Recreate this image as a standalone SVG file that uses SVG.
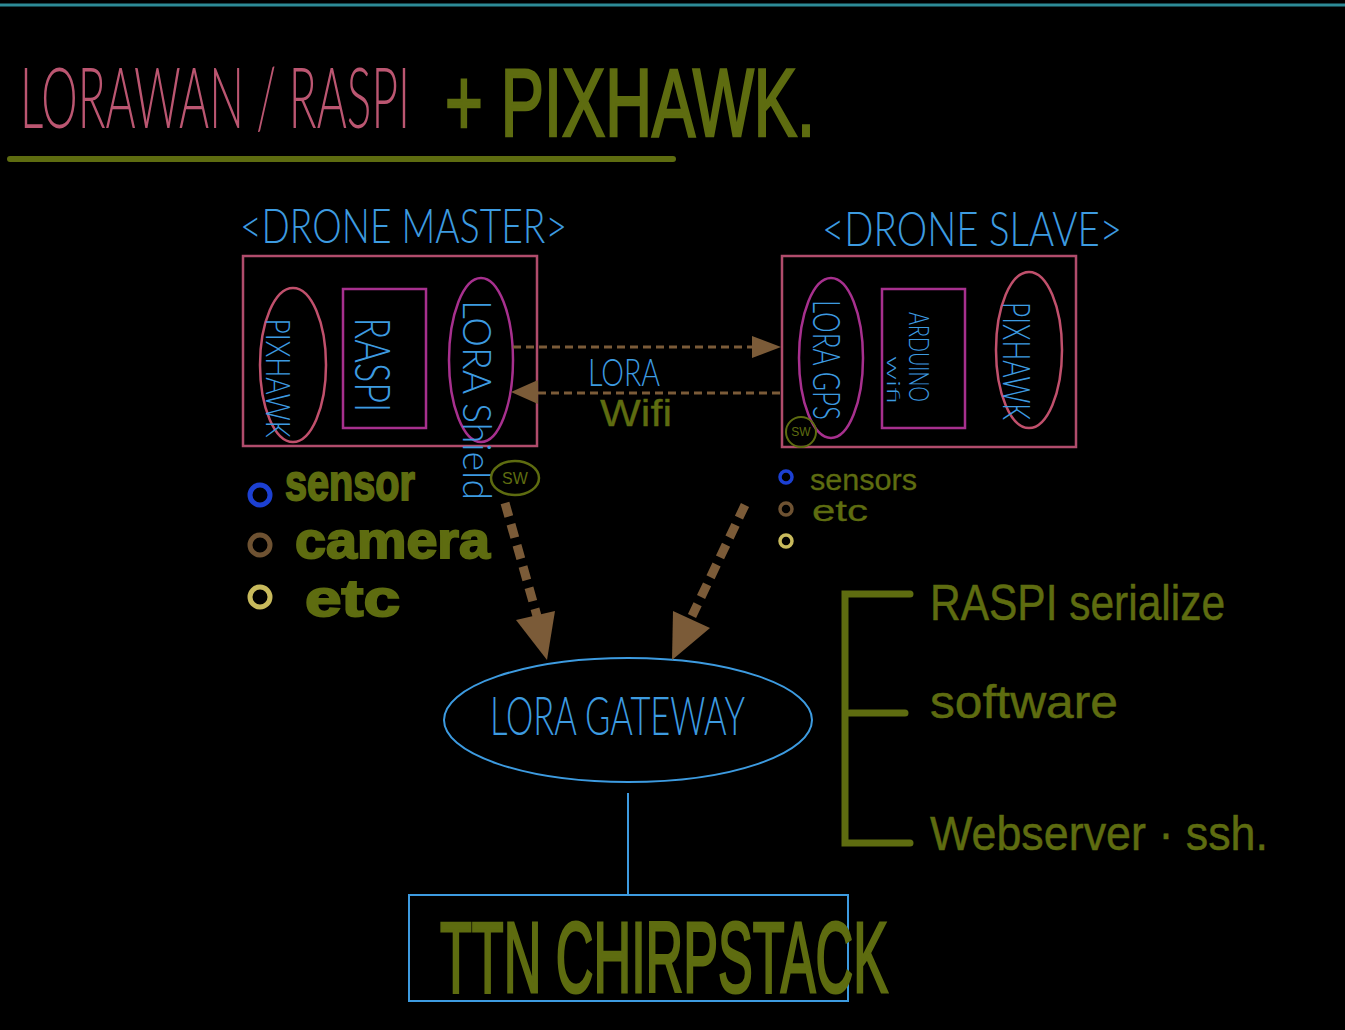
<svg xmlns="http://www.w3.org/2000/svg" width="1345" height="1030" viewBox="0 0 1345 1030">
<style>
.pink{fill:#bb5671;font-family:"Lato","Liberation Sans",sans-serif;font-weight:300}
.olive{fill:#5e6c10;stroke:#5e6c10;font-family:"Liberation Sans",sans-serif}
.blue{fill:#3d9be0;font-family:"Lato","Liberation Sans",sans-serif;font-weight:300}
.box{fill:none;stroke:#b04c6c;stroke-width:2.5}
.mag{fill:none;stroke:#a7308e;stroke-width:2.5}
.pk{fill:none;stroke:#c0506c;stroke-width:2.5}
.dash{stroke:#7b5b38;stroke-width:3;stroke-dasharray:8 5;fill:none}
.bigdash{stroke:#7b5b38;stroke-width:9;stroke-dasharray:14 8;fill:none}
.head{fill:#7b5b38}
.brk{stroke:#5e6c10;stroke-width:7;fill:none;stroke-linecap:round}
</style>
<rect width="1345" height="1030" fill="#000"/>
<line x1="0" y1="5" x2="1345" y2="5" stroke="#2d8b97" stroke-width="3"/>

<g id="title">
<text class="pink" font-size="46" transform="translate(20,128) scale(1,1.83)" textLength="390" lengthAdjust="spacingAndGlyphs">LORAWAN / RASPI</text>
<text class="olive" font-size="72" stroke-width="2" transform="translate(445,136) scale(1,1.33)" textLength="370" lengthAdjust="spacingAndGlyphs">+ PIXHAWK.</text>
<line x1="10" y1="159" x2="673" y2="159" stroke="#5e6c10" stroke-width="6" stroke-linecap="round"/>
</g>

<g id="drone-master">
<text class="blue" x="240" y="243" font-size="48" textLength="327" lengthAdjust="spacingAndGlyphs">&lt;DRONE MASTER&gt;</text>
<rect class="box" x="243" y="256" width="294" height="190"/>
<ellipse class="pk" cx="293" cy="365" rx="33" ry="77"/>
<text class="blue" font-size="34" text-anchor="middle" transform="translate(278,378) rotate(90)" dy="12" textLength="119" lengthAdjust="spacingAndGlyphs">PIXHAWK</text>
<rect class="mag" x="343" y="289" width="83" height="139"/>
<text class="blue" font-size="50" text-anchor="middle" transform="translate(373,365) rotate(90)" dy="18" textLength="95" lengthAdjust="spacingAndGlyphs">RASPI</text>
<ellipse class="mag" cx="481" cy="360" rx="32" ry="82"/>
<text class="blue" font-size="40" text-anchor="middle" transform="translate(477,400) rotate(90)" dy="14" textLength="200" lengthAdjust="spacingAndGlyphs">LORA Shield</text>
<ellipse cx="515" cy="478" rx="24" ry="17" fill="none" stroke="#5e6c10" stroke-width="2.5"/>
<text x="515" y="484" font-size="16" text-anchor="middle" fill="#5e6c10" font-family="Liberation Sans, sans-serif">SW</text>
</g>

<g id="master-legend">
<circle cx="260" cy="495" r="10" fill="none" stroke="#1c40d2" stroke-width="5"/>
<circle cx="260" cy="545" r="10" fill="none" stroke="#6e5232" stroke-width="5"/>
<circle cx="260" cy="597" r="10" fill="none" stroke="#c8ba5c" stroke-width="5"/>
<text class="olive" x="285" y="500" font-size="52" font-weight="bold" stroke-width="2" textLength="130" lengthAdjust="spacingAndGlyphs">sensor</text>
<text class="olive" x="295" y="558" font-size="52" font-weight="bold" stroke-width="2" textLength="195" lengthAdjust="spacingAndGlyphs">camera</text>
<text class="olive" x="305" y="616" font-size="52" font-weight="bold" stroke-width="2" textLength="95" lengthAdjust="spacingAndGlyphs">etc</text>
</g>

<g id="drone-slave">
<text class="blue" x="822" y="246" font-size="48" textLength="300" lengthAdjust="spacingAndGlyphs">&lt;DRONE SLAVE&gt;</text>
<rect class="box" x="782" y="256" width="294" height="191"/>
<ellipse class="mag" cx="831" cy="358" rx="32" ry="80"/>
<text class="blue" font-size="38" text-anchor="middle" transform="translate(826,360) rotate(90)" dy="13" textLength="120" lengthAdjust="spacingAndGlyphs">LORA GPS</text>
<rect class="mag" x="882" y="289" width="83" height="139"/>
<text class="blue" font-size="28" text-anchor="middle" transform="translate(919,357) rotate(90)" dy="10" textLength="90" lengthAdjust="spacingAndGlyphs">ARDUINO</text>
<text class="blue" font-size="18" text-anchor="middle" transform="translate(893,380) rotate(90)" dy="6" textLength="48" lengthAdjust="spacingAndGlyphs">wifi</text>
<ellipse class="pk" cx="1029" cy="350" rx="33" ry="78"/>
<text class="blue" font-size="38" text-anchor="middle" transform="translate(1016,361) rotate(90)" dy="13" textLength="118" lengthAdjust="spacingAndGlyphs">PIXHAWK</text>
<circle cx="801" cy="432" r="15" fill="none" stroke="#5e6c10" stroke-width="2"/>
<text x="801" y="436" font-size="12" text-anchor="middle" fill="#5e6c10" font-family="Liberation Sans, sans-serif">SW</text>
</g>

<g id="slave-legend">
<circle cx="786" cy="477" r="6" fill="none" stroke="#1c40d2" stroke-width="3.5"/>
<circle cx="786" cy="509" r="6" fill="none" stroke="#6e5232" stroke-width="3.5"/>
<circle cx="786" cy="541" r="6" fill="none" stroke="#c8ba5c" stroke-width="3.5"/>
<text class="olive" x="810" y="490" font-size="30" stroke-width="0.3" textLength="107" lengthAdjust="spacingAndGlyphs">sensors</text>
<text class="olive" x="812" y="521" font-size="30" stroke-width="0.3" textLength="56" lengthAdjust="spacingAndGlyphs">etc</text>
</g>

<g id="gateway">
<ellipse cx="628" cy="720" rx="184" ry="62" fill="none" stroke="#3d9be0" stroke-width="2"/>
<text class="blue" x="490" y="735" font-size="54" textLength="255" lengthAdjust="spacingAndGlyphs">LORA GATEWAY</text>
</g>

<g id="ttn">
<rect x="409" y="895" width="439" height="106" fill="none" stroke="#3d9be0" stroke-width="2"/>
<text class="olive" x="440" y="992" font-size="100" stroke-width="3" textLength="448" lengthAdjust="spacingAndGlyphs">TTN CHIRPSTACK</text>
</g>

<g id="notes">
<path class="brk" d="M910 594 H845 V843 H910 M850 713 H905"/>
<text class="olive" x="930" y="620" font-size="50" stroke-width="0.5" textLength="295" lengthAdjust="spacingAndGlyphs">RASPI serialize</text>
<text class="olive" x="930" y="718" font-size="46" stroke-width="0.5" textLength="188" lengthAdjust="spacingAndGlyphs">software</text>
<text class="olive" x="930" y="850" font-size="48" stroke-width="0.5" textLength="338" lengthAdjust="spacingAndGlyphs">Webserver · ssh.</text>
</g>

<g id="connectors">
<line class="dash" x1="513" y1="347" x2="752" y2="347"/>
<polygon class="head" points="752,336 781,347 752,358"/>
<line class="dash" x1="780" y1="393" x2="537" y2="393"/>
<polygon class="head" points="511,392 538,380 538,404"/>
<text class="blue" x="588" y="386" font-size="38" textLength="72" lengthAdjust="spacingAndGlyphs">LORA</text>
<text class="olive" x="600" y="426" font-size="36" stroke-width="0.3" textLength="72" lengthAdjust="spacingAndGlyphs">Wifi</text>
<line class="bigdash" x1="505" y1="503" x2="537" y2="616"/>
<polygon class="head" points="516,620 555,611 547,660"/>
<line class="bigdash" x1="745" y1="505" x2="692" y2="616"/>
<polygon class="head" points="673,611 710,628 672,660"/>
<line x1="628" y1="793" x2="628" y2="895" stroke="#3d9be0" stroke-width="2"/>
</g>
</svg>
